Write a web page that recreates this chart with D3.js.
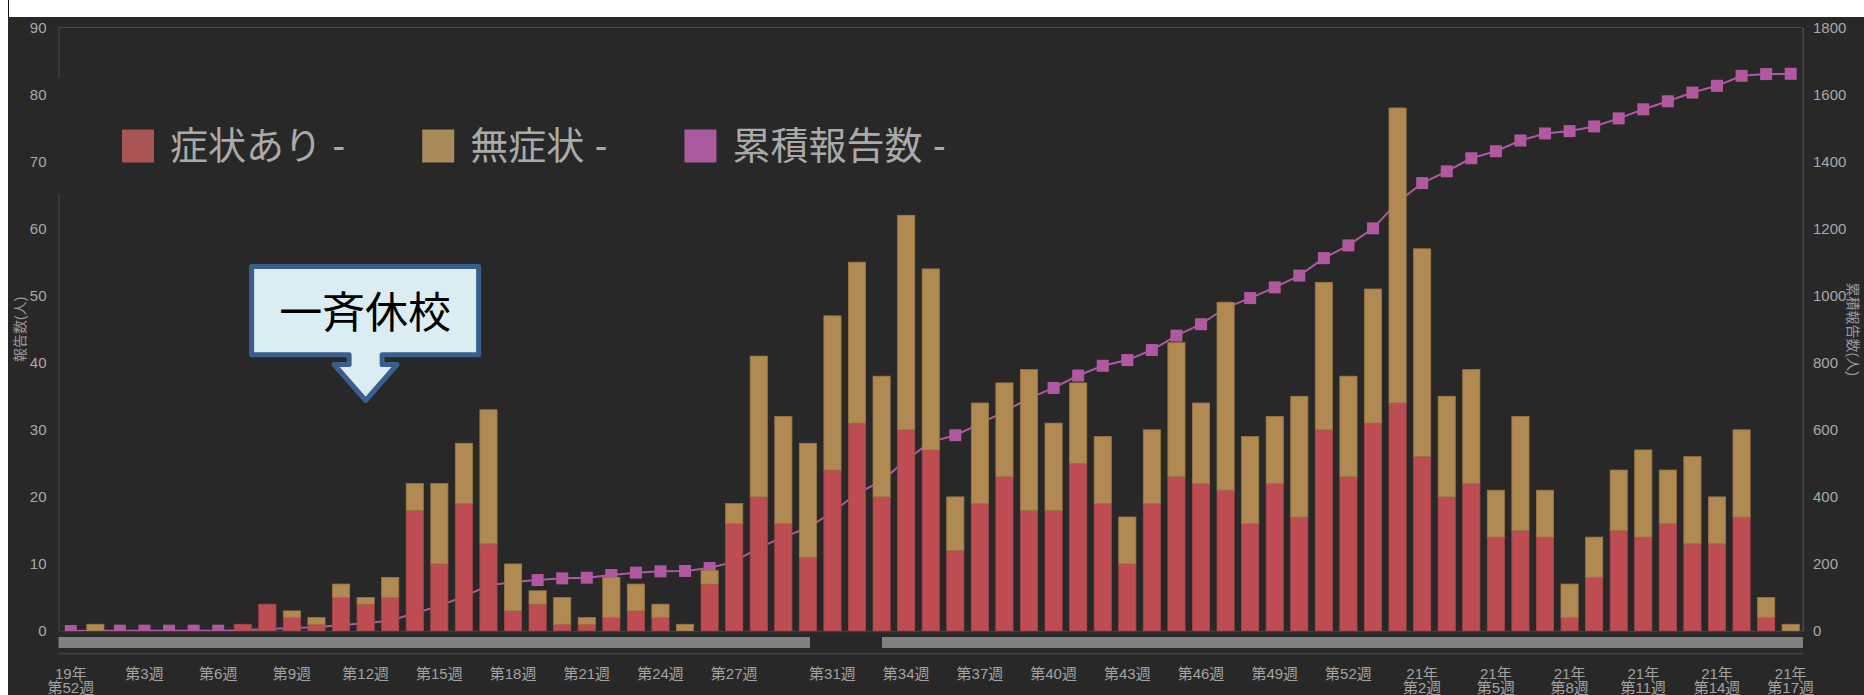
<!DOCTYPE html>
<html>
<head>
<meta charset="utf-8">
<script src="https://cdn.jsdelivr.net/npm/d3@7"></script>
<style>
  html, body { margin: 0; padding: 0; background: #fff; }
  svg { display: block; }
  text { font-family: "Liberation Sans", "Noto Sans CJK JP", sans-serif; }
</style>
</head>
<body>
<svg id="chart" width="1864" height="695"></svg>
<script>
// Weekly categories: 2019 W52, 2020 W1-W53, 2021 W1-W17
const weeks = ["19年\n第52週"]
  .concat(d3.range(1, 54).map(n => `第${n}週`))
  .concat(d3.range(1, 18).map(n => `21年\n第${n}週`));

// Reports with symptoms (people per week)
const symptomatic = [
  0, 0, 0, 0, 0, 0, 0, 1, 4, 2,
  1, 5, 4, 5, 18, 10, 19, 13, 3, 4,
  1, 1, 2, 3, 2, 0, 7, 16, 20, 16,
  11, 24, 31, 20, 30, 27, 12, 19, 23, 18,
  18, 25, 19, 10, 19, 23, 22, 21, 16, 22,
  17, 30, 23, 31, 34, 26, 20, 22, 14, 15,
  14, 2, 8, 15, 14, 16, 13, 13, 17, 2,
  0
];

// Reports without symptoms (people per week)
const asymptomatic = [
  0, 1, 0, 0, 0, 0, 0, 0, 0, 1,
  1, 2, 1, 3, 4, 12, 9, 20, 7, 2,
  4, 1, 6, 4, 2, 1, 2, 3, 21, 16,
  17, 23, 24, 18, 32, 27, 8, 15, 14, 21,
  13, 12, 10, 7, 11, 20, 12, 28, 13, 10,
  18, 22, 15, 20, 44, 31, 15, 17, 7, 17,
  7, 5, 6, 9, 13, 8, 13, 7, 13, 3,
  1
];

// Cumulative number of reports
const cumulative = [
  0, 1, 1, 1, 1, 1, 1, 2, 6, 9,
  11, 18, 23, 31, 53, 75, 103, 136, 146, 152,
  157, 159, 167, 174, 178, 179, 188, 207, 248, 280,
  308, 355, 410, 448, 510, 564, 584, 618, 655, 694,
  725, 762, 791, 808, 838, 881, 915, 964, 993, 1025,
  1060, 1112, 1150, 1201, 1279, 1336, 1371, 1410, 1431, 1463,
  1484, 1491, 1505, 1529, 1556, 1580, 1606, 1626, 1656, 1661,
  1662
];

const leftTicks = [0, 10, 20, 30, 40, 50, 60, 70, 80, 90];
const rightTicks = [0, 200, 400, 600, 800, 1000, 1200, 1400, 1600, 1800];

// Week labels printed along the bottom
const tickWeeks = ["19年\n第52週", "第3週", "第6週", "第9週", "第12週", "第15週", "第18週",
  "第21週", "第24週", "第27週", "第31週", "第34週", "第37週", "第40週", "第43週",
  "第46週", "第49週", "第52週", "21年\n第2週", "21年\n第5週", "21年\n第8週",
  "21年\n第11週", "21年\n第14週", "21年\n第17週"];

const seriesNames = ["症状あり -", "無症状 -", "累積報告数 -"];
const leftTitle = "報告数(人)";
const rightTitle = "累積報告数(人)";
const calloutText = "一斉休校";
const calloutWeek = "第12週";

// ---------------------------------------------------------------
const W = 1864, H = 695;
const plot = { left: 58.5, right: 1803, top: 27.5, bottom: 631 };
const colors = {
  bg: "#282828", frame: "#4a4a4a", text: "#a9a9a9",
  red: "#bd4d53", tan: "#b08a52", purple: "#b058a0",
  redLegend: "#a95555", tanLegend: "#a98a5a", purpleLegend: "#a95aa0"
};

const svg = d3.select("#chart");

// page: white margin around the dark chart panel
svg.append("rect").attr("width", W).attr("height", H).attr("fill", "#fff");
svg.append("rect").attr("x", 8).attr("y", 17).attr("width", W - 8).attr("height", H - 17)
  .attr("fill", colors.bg);
svg.append("line").attr("x1", 8.5).attr("x2", 8.5).attr("y1", 0).attr("y2", 17)
  .attr("stroke", "#111").attr("stroke-width", 1);

const x = d3.scaleBand().domain(weeks).range([plot.left, plot.right])
  .paddingInner(0.3).paddingOuter(0.15);
const y = d3.scaleLinear().domain([0, 90]).range([plot.bottom, plot.top]);
const yCum = d3.scaleLinear().domain([0, 1800]).range([plot.bottom, plot.top]);
const cx = d => x(d) + x.bandwidth() / 2;

// plot frame (top and right edges)
svg.append("path")
  .attr("d", `M${plot.left},${plot.top}H${plot.right}V${plot.bottom}`)
  .attr("fill", "none").attr("stroke", colors.frame).attr("stroke-width", 1);

// left axis
const gLeft = svg.append("g").attr("transform", `translate(${plot.left},0)`)
  .call(d3.axisLeft(y).tickValues(leftTicks).tickFormat(d3.format("d"))
    .tickSize(0).tickSizeOuter(0).tickPadding(12));
gLeft.select(".domain").attr("stroke", colors.frame);
gLeft.selectAll("text").attr("fill", colors.text).attr("font-size", 15)
  .attr("font-family", "Liberation Sans, sans-serif");

// right axis
const gRight = svg.append("g").attr("transform", `translate(${plot.right},0)`)
  .call(d3.axisRight(yCum).tickValues(rightTicks).tickFormat(d3.format("d"))
    .tickSize(0).tickSizeOuter(0).tickPadding(10));
gRight.select(".domain").attr("stroke", colors.frame);
gRight.selectAll("text").attr("fill", colors.text).attr("font-size", 15)
  .attr("font-family", "Liberation Sans, sans-serif");

// bottom axis
const gBottom = svg.append("g").attr("transform", `translate(0,${plot.bottom})`)
  .call(d3.axisBottom(x).tickValues(tickWeeks).tickSize(0).tickSizeOuter(0));
gBottom.select(".domain").attr("stroke", "#3e3e3e").attr("stroke-width", 1.5);
gBottom.selectAll(".tick text").each(function (d) {
  const t = d3.select(this).text("").attr("y", 0).attr("dy", null)
    .attr("fill", "#a3a3a3").attr("font-size", 15);
  d.split("\n").forEach((line, i) => {
    t.append("tspan").attr("x", 0).attr("y", 43 + i * 14).attr("dy", "0.35em").text(line);
  });
});

// range slider under the axis
const sliderY = plot.bottom + 6, sliderH = 11;
const sliderGap = [810, 882];
svg.append("rect").attr("x", plot.left).attr("y", sliderY)
  .attr("width", sliderGap[0] - plot.left).attr("height", sliderH).attr("fill", "#808080");
svg.append("rect").attr("x", sliderGap[1]).attr("y", sliderY)
  .attr("width", plot.right - sliderGap[1]).attr("height", sliderH).attr("fill", "#808080");
svg.append("line").attr("x1", plot.left).attr("x2", plot.right)
  .attr("y1", sliderY + sliderH + 5.5).attr("y2", sliderY + sliderH + 5.5)
  .attr("stroke", "#444").attr("stroke-width", 1.5);

// clip for plot content
svg.append("clipPath").attr("id", "plotClip").append("rect")
  .attr("x", plot.left).attr("y", plot.top - 10)
  .attr("width", plot.right - plot.left + 10).attr("height", plot.bottom - plot.top + 10);

const content = svg.append("g").attr("clip-path", "url(#plotClip)");

// cumulative line with square markers (drawn beneath the bars)
const cumData = weeks.map((w, i) => ({ w, v: cumulative[i] }));
content.append("path").datum(cumData)
  .attr("d", d3.line().x(d => cx(d.w)).y(d => yCum(d.v)))
  .attr("fill", "none").attr("stroke", colors.purple).attr("stroke-width", 2);
const mk = 12;
content.selectAll("rect.marker").data(cumData).join("rect").attr("class", "marker")
  .attr("x", d => cx(d.w) - mk / 2).attr("y", d => yCum(d.v) - mk / 2)
  .attr("width", mk).attr("height", mk).attr("fill", colors.purple);

// stacked bars
const stackData = weeks.map((w, i) => ({ w, s: symptomatic[i], a: asymptomatic[i] }));
const stacked = d3.stack().keys(["s", "a"])(stackData);
const barFill = [colors.red, colors.tan];
const barStroke = ["#a8434a", "#9a7642"];
stacked.forEach((layer, k) => {
  content.append("g").selectAll("rect").data(layer.filter(d => d[1] > d[0])).join("rect")
    .attr("x", d => x(d.data.w)).attr("width", x.bandwidth())
    .attr("y", d => y(d[1])).attr("height", d => y(d[0]) - y(d[1]))
    .attr("fill", barFill[k]).attr("stroke", barStroke[k]).attr("stroke-width", 0.8);
});

// legend
const legendBox = { x: 47, y: 78, w: 763, h: 116 };
svg.append("rect").attr("x", legendBox.x).attr("y", legendBox.y)
  .attr("width", legendBox.w).attr("height", legendBox.h).attr("fill", colors.bg);
const legendColors = [colors.redLegend, colors.tanLegend, colors.purpleLegend];
let lx = 122;
const ly = 146;
seriesNames.forEach((name, i) => {
  svg.append("rect").attr("x", lx).attr("y", ly - 16.5).attr("width", 32).attr("height", 33)
    .attr("fill", legendColors[i]);
  const t = svg.append("text").attr("x", lx + 48).attr("y", ly).attr("dy", "0.35em")
    .attr("fill", "#aaaaaa").attr("font-size", 38)
    .attr("font-family", "Noto Sans CJK JP, sans-serif").text(name);
  lx += 48 + t.node().getComputedTextLength() + 77;
});

// axis titles
svg.append("text").attr("transform", `translate(20,${(plot.top + plot.bottom) / 2}) rotate(-90)`)
  .attr("text-anchor", "middle").attr("dy", "0.35em").attr("fill", "#9a9a9a")
  .attr("font-size", 14).attr("font-family", "Noto Sans CJK JP, sans-serif").text(leftTitle);
svg.append("text").attr("transform", `translate(1853,${(plot.top + plot.bottom) / 2}) rotate(90)`)
  .attr("text-anchor", "middle").attr("dy", "0.35em").attr("fill", "#9a9a9a")
  .attr("font-size", 14).attr("font-family", "Noto Sans CJK JP, sans-serif").text(rightTitle);

// school-closure callout pointing down at its week
const tipX = cx(calloutWeek);
const c = { l: tipX - 114, r: tipX + 113, t: 266.5, b: 354.8, stemHalf: 16.5, wingHalf: 31.5, wingY: 364.5, tipY: 400.5 };
const calloutPath = `M${c.l},${c.t}H${c.r}V${c.b}H${tipX + c.stemHalf}V${c.wingY}H${tipX + c.wingHalf}` +
  `L${tipX},${c.tipY}L${tipX - c.wingHalf},${c.wingY}H${tipX - c.stemHalf}V${c.b}H${c.l}Z`;
svg.append("path").attr("d", calloutPath)
  .attr("fill", "#daedf3").attr("stroke", "#3b5f8c").attr("stroke-width", 5)
  .attr("stroke-linejoin", "round");
svg.append("text").attr("x", (c.l + c.r) / 2).attr("y", 313).attr("dy", "0.35em")
  .attr("text-anchor", "middle").attr("fill", "#000").attr("font-size", 43)
  .attr("font-family", "Noto Sans CJK JP, sans-serif").text(calloutText);
</script>
</body>
</html>
